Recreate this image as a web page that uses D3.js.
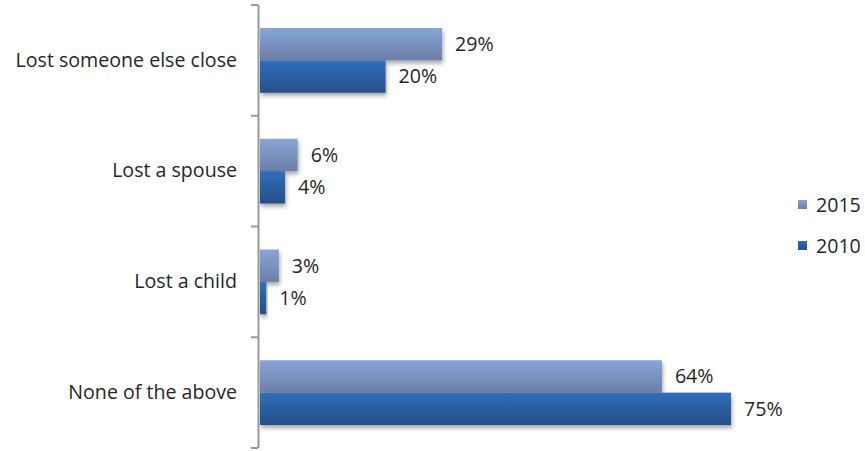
<!DOCTYPE html>
<html><head><meta charset="utf-8">
<script src="https://cdn.jsdelivr.net/npm/d3@7"></script>
<style>body{margin:0;background:#fff}svg{display:block}text{font-family:"Open Sans",sans-serif;fill:#262626}</style>
</head><body><svg id="c" width="865" height="451"></svg>
<script>
const categories = ["Lost someone else close","Lost a spouse","Lost a child","None of the above"];
const seriesNames = ["2015","2010"];
const values2015 = [29,6,3,64];
const values2010 = [20,4,1,75];
const series = [values2015, values2010];

const FS = 19.6;
const svg = d3.select("#c");
const defs = svg.append("defs");
const grads = [["#88a5d8","#6b7fa6"],["#306eba","#264f89"]];
grads.forEach((g,i)=>{
  const lg = defs.append("linearGradient").attr("id","g"+i).attr("x1",0).attr("y1",0).attr("x2",0).attr("y2",1);
  lg.append("stop").attr("offset","0%").attr("stop-color",g[0]);
  lg.append("stop").attr("offset","100%").attr("stop-color",g[1]);
});
const f = defs.append("filter").attr("id","sh").attr("x","-10%").attr("y","-20%").attr("width","130%").attr("height","160%");
f.append("feDropShadow").attr("dx",1).attr("dy",3).attr("stdDeviation",2).attr("flood-color","#000").attr("flood-opacity",0.35);

const x = d3.scaleLinear().domain([0,75]).range([260,731]);
const y = d3.scaleBand().domain(categories).range([5,448]).paddingInner(0).paddingOuter(0);
const inner = d3.scaleBand().domain(seriesNames).range([0,y.bandwidth()]).paddingInner(0).paddingOuter(0.71);

const axis = d3.axisLeft(y).tickSize(0).tickPadding(22);
const ag = svg.append("g").attr("transform","translate(259,0)").call(axis);
ag.select(".domain").remove();
ag.selectAll("text").attr("font-size",FS).style("font-family","'Open Sans',sans-serif").attr("fill","#262626");

// bars
series.forEach((vals,si)=>{
  svg.append("g").selectAll("rect").data(vals).join("rect")
    .attr("x",x(0)).attr("y",(d,i)=>y(categories[i])+inner(seriesNames[si]))
    .attr("width",d=>x(d)-x(0)).attr("height",inner.bandwidth())
    .attr("fill","url(#g"+si+")").attr("filter","url(#sh)");
  svg.append("g").selectAll("text").data(vals).join("text")
    .attr("x",d=>x(d)+13).attr("y",(d,i)=>y(categories[i])+inner(seriesNames[si])+inner.bandwidth()/2)
    .attr("dy","0.35em").attr("font-size",FS).text(d=>d+"%");
});

// axis line and ticks
svg.append("line").attr("x1",258.5).attr("x2",258.5).attr("y1",5).attr("y2",448).attr("stroke","#999").attr("stroke-width",2);
const tickYs = categories.map(c=>y(c)).concat([y.range()[1]]);
svg.append("g").selectAll("line").data(tickYs).join("line")
  .attr("x1",251).attr("x2",258).attr("y1",d=>d).attr("y2",d=>d).attr("stroke","#999").attr("stroke-width",2);

// legend
const leg = svg.append("g");
seriesNames.forEach((s,i)=>{
  const ly = 205 + i*41;
  leg.append("rect").attr("x",798).attr("y",ly-5).attr("width",9).attr("height",9).attr("fill","url(#g"+i+")");
  leg.append("text").attr("x",816).attr("y",ly).attr("dy","0.35em").attr("font-size",FS).text(s);
});
</script></body></html>
